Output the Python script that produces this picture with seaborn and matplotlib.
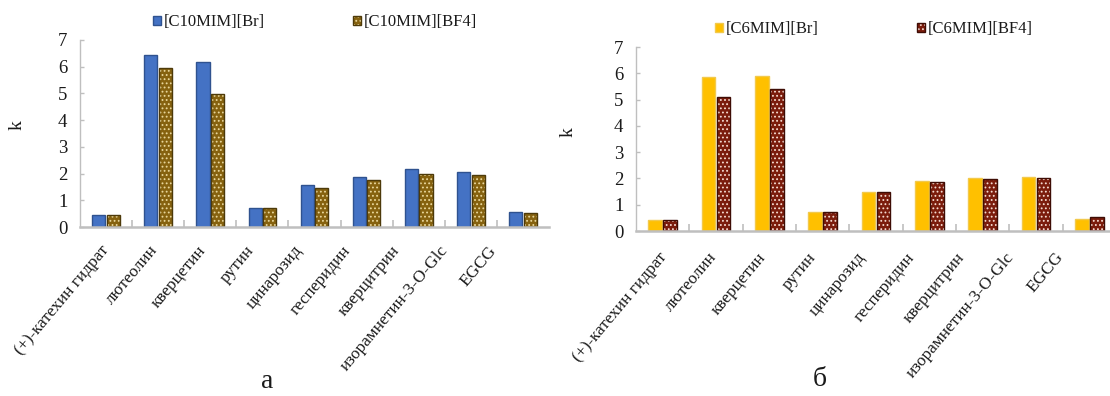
import numpy as np
import pandas as pd
import matplotlib
matplotlib.use("Agg")
import matplotlib.pyplot as plt
import seaborn as sns

# Capacity factors k for the flavonoid set on two pairs of ionic liquids
compounds = ["(+)-катехин гидрат", "лютеолин", "кверцетин", "рутин", "цинарозид",
             "гесперидин", "кверцитрин", "изорамнетин-3-O-Glc", "EGCG"]

salts_c10 = ["[C10MIM][Br]", "[C10MIM][BF4]"]
k_c10_br = [0.45, 6.44, 6.19, 0.71, 1.57, 1.86, 2.16, 2.05, 0.57]
k_c10_bf4 = [0.45, 5.97, 4.97, 0.71, 1.47, 1.75, 1.99, 1.96, 0.54]

salts_c6 = ["[C6MIM][Br]", "[C6MIM][BF4]"]
k_c6_br = [0.42, 5.84, 5.88, 0.73, 1.47, 1.91, 2.03, 2.06, 0.44]
k_c6_bf4 = [0.42, 5.10, 5.41, 0.73, 1.47, 1.85, 1.97, 2.00, 0.53]

y_ticks = [0, 1, 2, 3, 4, 5, 6, 7]
panel_letters = ["а", "б"]

sns.set_theme(style="white")
plt.rcParams["font.family"] = ["Liberation Serif", "DejaVu Serif"]
plt.rcParams["hatch.linewidth"] = 0.8

W, H = 1110, 396
fig = plt.figure(figsize=(W / 100, H / 100), dpi=100)


def px_rect(x0, x1, y_top, y_bottom):
    return [x0 / W, 1 - y_bottom / H, (x1 - x0) / W, (y_bottom - y_top) / H]


ax_a = fig.add_axes(px_rect(80, 549, 40, 227))
ax_b = fig.add_axes(px_rect(636, 1116, 47, 231))

GRAY = "#BFBFBF"


def draw_panel(ax, salts, br, bf4, fills, edges, dot_color, label_shift, label_pad,
               legend_anchor, col_space):
    df = pd.DataFrame({
        "compound": compounds * 2,
        "k": list(br) + list(bf4),
        "salt": [salts[0]] * len(compounds) + [salts[1]] * len(compounds),
    })
    sns.barplot(data=df, x="compound", y="k", hue="salt", hue_order=salts,
                palette=fills, saturation=1, width=0.56, gap=0.1,
                errorbar=None, legend=False, ax=ax)

    for bar in ax.containers[0]:
        bar.set_edgecolor(edges[0])
        bar.set_linewidth(1.0)
    for bar in ax.containers[1]:
        bar.set_hatch("....")
        bar.set_edgecolor(edges[1])
        bar.set_linewidth(1.0)
        bar._hatch_color = matplotlib.colors.to_rgba(dot_color)

    n = len(compounds)
    ax.set_xlim(-0.5, n - 0.5)
    ax.set_ylim(0, 7)
    ax.set_yticks(y_ticks)
    ax.tick_params(axis="y", labelsize=13.5, direction="in", length=3,
                   color=GRAY, width=1, pad=9, left=True, labelcolor="#1a1a1a")

    # category labels, slanted, spaced a little tighter than the bars
    pos = label_shift + np.arange(n) * 0.93
    ax.set_xticks(pos)
    ax.set_xticklabels(compounds, rotation=50, ha="right", va="center",
                       rotation_mode="anchor", fontsize=12.4, color="#1a1a1a")
    ax.tick_params(axis="x", which="major", length=0, pad=label_pad)
    ax.set_xticks(np.arange(0.5, n - 0.5, 1.0), minor=True)
    ax.tick_params(axis="x", which="minor", direction="in", length=5,
                   color=GRAY, width=1.2, bottom=True)

    for side in ("top", "right"):
        ax.spines[side].set_visible(False)
    ax.spines["left"].set_color(GRAY)
    ax.spines["left"].set_linewidth(1.0)
    ax.spines["bottom"].set_color(GRAY)
    ax.spines["bottom"].set_linewidth(1.8)

    ax.set_xlabel("")
    ax.set_ylabel("k", fontsize=14, color="#1a1a1a")

    handles = [ax.containers[0][0], ax.containers[1][0]]
    leg = ax.legend(handles, salts, ncol=2, frameon=False, fontsize=12,
                    loc="center left",
                    bbox_to_anchor=(legend_anchor[0] / W, 1 - legend_anchor[1] / H),
                    bbox_transform=fig.transFigure,
                    borderpad=0, borderaxespad=0,
                    handlelength=0.45, handleheight=0.45, handletextpad=0.2,
                    columnspacing=col_space)
    for t in leg.get_texts():
        t.set_color("#1a1a1a")


draw_panel(ax_a, salts_c10, k_c10_br, k_c10_bf4,
           fills=["#4472C4", "#86620F"], edges=["#2F528F", "#4D3A0A"],
           dot_color="#E9D79C", label_shift=0.0, label_pad=15,
           legend_anchor=(153, 22), col_space=5.3)
draw_panel(ax_b, salts_c6, k_c6_br, k_c6_bf4,
           fills=["#FFC000", "#7B1C0C"], edges=["#F2C94C", "#3E0D05"],
           dot_color="#F5DCD2", label_shift=0.03, label_pad=17,
           legend_anchor=(715, 29), col_space=5.9)

ax_a.yaxis.set_label_coords(-0.117, 0.545)
ax_b.yaxis.set_label_coords(-0.123, 0.538)

fig.text(267 / W, 1 - 382 / H, panel_letters[0], fontsize=20, ha="center", va="center",
         color="#1a1a1a")
fig.text(820 / W, 1 - 379 / H, panel_letters[1], fontsize=20, ha="center", va="center",
         color="#1a1a1a")

fig.savefig("out.png", dpi=100, facecolor="white")
